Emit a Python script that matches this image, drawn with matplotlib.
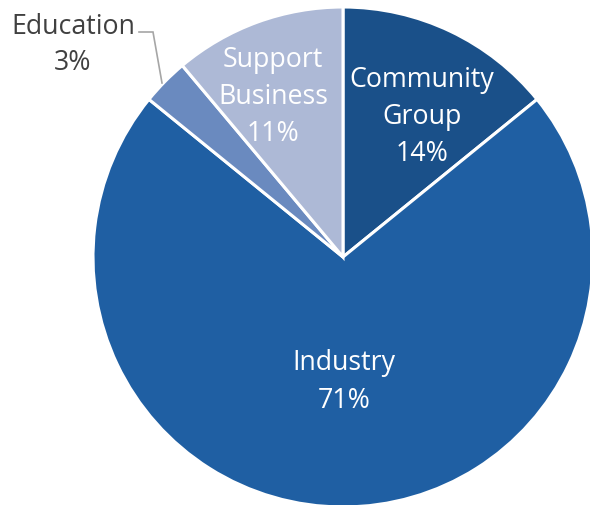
import matplotlib
matplotlib.use("Agg")
import matplotlib.pyplot as plt

# Share of members by sector
categories = ["Community\nGroup", "Industry", "Education", "Support\nBusiness"]
shares = [14, 71, 3, 11]
colors = ["#1a5089", "#1f5fa3", "#6a8abf", "#adb9d6"]

plt.rcParams["font.family"] = ["Open Sans", "DejaVu Sans"]

W, H = 590, 505
fig = plt.figure(figsize=(W / 100, H / 100), dpi=100)
ax = fig.add_axes([0, 0, 1, 1])

cx, cy, r = 343, H - 257, 250
wedges, _ = ax.pie(
    shares, colors=colors, startangle=90, counterclock=False,
    center=(cx, cy), radius=r, frame=True,
    wedgeprops=dict(edgecolor="white", linewidth=2.2),
)
ax.set_xlim(0, W)
ax.set_ylim(0, H)
ax.set_aspect("equal")
ax.axis("off")

fs = 19.3
ls = 1.45
# In-slice labels
ax.text(422, H - 117, f"{categories[0]}\n{shares[0]}%", ha="center", va="center",
        color="white", fontsize=fs, linespacing=ls)
ax.text(344, H - 382, f"{categories[1]}\n{shares[1]}%", ha="center", va="center",
        color="white", fontsize=fs, linespacing=ls)
ax.text(273, H - 97, f"{categories[3]}\n{shares[3]}%", ha="center", va="center",
        color="white", fontsize=fs, linespacing=ls)

# Outside label with leader line for the small slice
ax.text(73, H - 45, f"{categories[2]}\n{shares[2]}%", ha="center", va="center",
        color="#404040", fontsize=fs, linespacing=1.38)
ax.plot([139, 153, 162], [H - 32, H - 32, H - 83], color="#a6a6a6", lw=1.2,
        solid_joinstyle="miter")

fig.savefig("out.png", dpi=100, facecolor="white")
